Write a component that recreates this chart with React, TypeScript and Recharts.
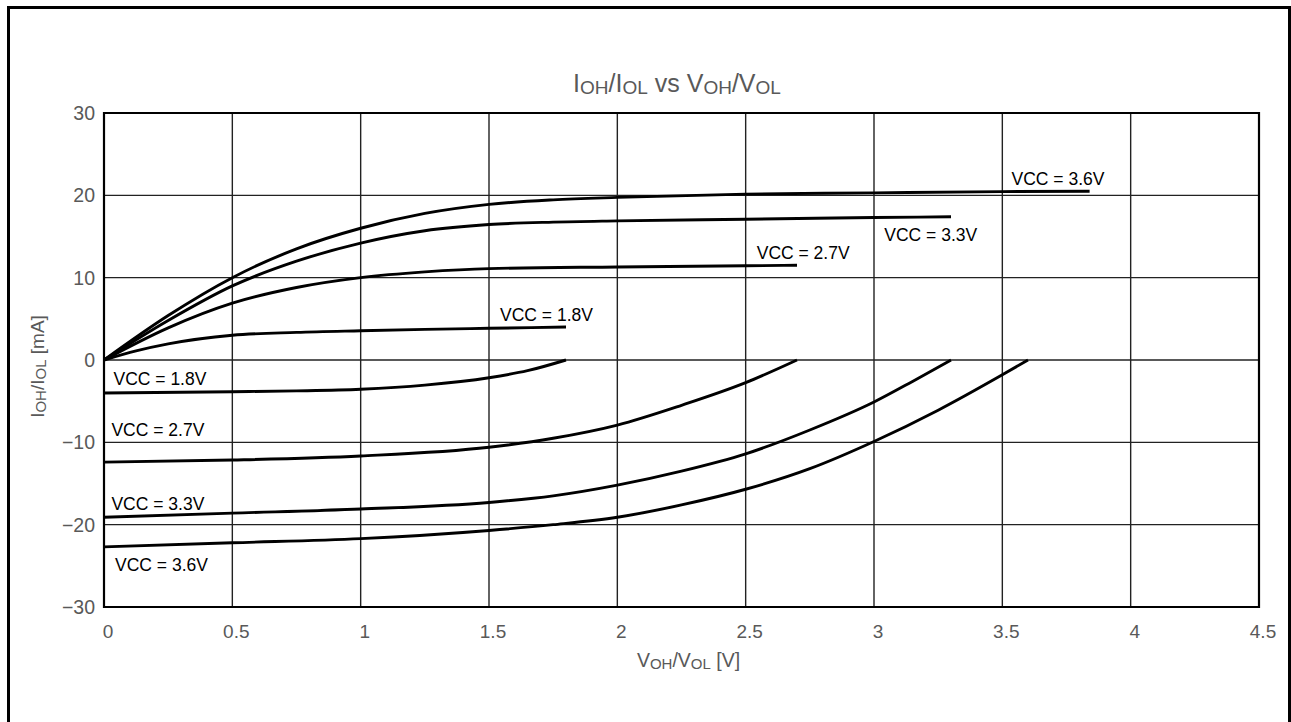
import React from 'react';
import {
  LineChart,
  Line,
  XAxis,
  YAxis,
  CartesianGrid,
  ReferenceArea,
  ReferenceDot,
  Label,
} from 'recharts';

const FONT = '"Liberation Sans", Arial, Helvetica, sans-serif';

const xTicks = [0, 0.5, 1, 1.5, 2, 2.5, 3, 3.5, 4, 4.5];
const yTicks = [-30, -20, -10, 0, 10, 20, 30];

// IOH (upper) curves
const ohX18 = [0, 0.125, 0.25, 0.5, 0.75, 1, 1.25, 1.5, 1.8];
const ohY18 = [0, 1.1, 1.95, 3.0, 3.35, 3.55, 3.72, 3.85, 4.0];
const ohX27 = [0, 0.25, 0.5, 0.75, 1, 1.25, 1.5, 2, 2.5, 2.7];
const ohY27 = [0, 3.9, 6.9, 8.8, 10.0, 10.7, 11.1, 11.3, 11.45, 11.5];
const ohX33 = [0, 0.25, 0.5, 0.75, 1, 1.25, 1.5, 1.75, 2, 2.5, 3, 3.3];
const ohY33 = [0, 4.8, 9.0, 12.0, 14.2, 15.7, 16.45, 16.75, 16.9, 17.1, 17.3, 17.4];
const ohX36 = [0, 0.25, 0.5, 0.75, 1, 1.25, 1.5, 1.75, 2, 2.5, 3, 3.5, 3.84];
const ohY36 = [0, 5.4, 10.0, 13.5, 16.0, 17.8, 18.9, 19.45, 19.75, 20.15, 20.3, 20.45, 20.5];

// IOL (lower) curves
const olX18 = [0, 0.5, 0.75, 1, 1.25, 1.5, 1.65, 1.8];
const olY18 = [-4.0, -3.85, -3.75, -3.55, -3.05, -2.15, -1.3, 0];
const olX27 = [0, 0.5, 1, 1.5, 1.75, 2, 2.25, 2.5, 2.7];
const olY27 = [-12.4, -12.15, -11.66, -10.6, -9.5, -7.9, -5.5, -2.75, 0];
const olX33 = [0, 0.5, 1, 1.5, 1.75, 2, 2.25, 2.5, 2.75, 3, 3.15, 3.3];
const olY33 = [-19.1, -18.6, -18.1, -17.3, -16.5, -15.2, -13.5, -11.4, -8.5, -5.1, -2.6, 0];
const olX36 = [0, 0.5, 1, 1.5, 1.75, 2, 2.25, 2.5, 2.75, 3, 3.25, 3.5, 3.6];
const olY36 = [-22.7, -22.2, -21.7, -20.7, -20.0, -19.1, -17.6, -15.7, -13.2, -9.9, -6.1, -1.8, 0];

// curve labels (text, x, y of text baseline-left)
const labelText = ['VCC = 3.6V', 'VCC = 3.3V', 'VCC = 2.7V', 'VCC = 1.8V', 'VCC = 1.8V', 'VCC = 2.7V', 'VCC = 3.3V', 'VCC = 3.6V'];
const labelX = [3.536, 3.04, 2.543, 1.543, 0.037, 0.029, 0.029, 0.043];
const labelY = [21.3, 14.4, 12.27, 4.78, -3.04, -9.19, -18.2, -25.6];

const zip = (xs: number[], ys: number[]) => xs.map((x, i) => ({ x, y: ys[i] }));

const series = [
  zip(ohX18, ohY18),
  zip(ohX27, ohY27),
  zip(ohX33, ohY33),
  zip(ohX36, ohY36),
  zip(olX18, olY18),
  zip(olX27, olY27),
  zip(olX33, olY33),
  zip(olX36, olY36),
];

const fmt = (v: number) => (v < 0 ? '\u2212' + Math.abs(v) : String(v));

const AXIS_COLOR = '#595959';

const XLabel = (props: any) => {
  const vb = props.viewBox || {};
  const cx = vb.x + vb.width / 2 + 7;
  const y = 667;
  return (
    <text x={cx} y={y} textAnchor="middle" fill={AXIS_COLOR} fontSize={19.5} fontFamily={FONT}>
      <tspan>V</tspan>
      <tspan fontSize={15} dy={2}>OH</tspan>
      <tspan dy={-2}>/V</tspan>
      <tspan fontSize={15} dy={2}>OL</tspan>
      <tspan dy={-2}> [V]</tspan>
    </text>
  );
};

const YLabel = () => {
  const x = 44;
  const y = 366.5;
  return (
    <text x={x} y={y} transform={`rotate(-90, ${x}, ${y})`} textAnchor="middle" fill={AXIS_COLOR} fontSize={19} fontFamily={FONT}>
      <tspan>I</tspan>
      <tspan fontSize={15} dy={2}>OH</tspan>
      <tspan dy={-2}>/I</tspan>
      <tspan fontSize={15} dy={2}>OL</tspan>
      <tspan dy={-2}> [mA]</tspan>
    </text>
  );
};

export default function App() {
  return (
    <div style={{ position: 'fixed', left: 0, top: 0, width: 1291, height: 722, overflow: 'hidden', background: '#fff' }}>
      <div style={{ position: 'absolute', left: 0, top: 0 }}>
        <LineChart width={1291} height={722} margin={{ top: 113, right: 32, bottom: 85, left: 44 }}>
          <CartesianGrid stroke="#222" strokeWidth={1.4} />
          <XAxis
            dataKey="x"
            type="number"
            domain={[0, 4.5]}
            ticks={xTicks}
            allowDataOverflow
            axisLine={false}
            tickLine={false}
            tickSize={0}
            tickMargin={18}
            height={30}
            tick={{ fill: AXIS_COLOR, fontSize: 19, fontFamily: FONT, dx: 4 }}
          >
            <Label content={XLabel} />
          </XAxis>
          <YAxis
            type="number"
            domain={[-30, 30]}
            ticks={yTicks}
            allowDataOverflow
            tickFormatter={fmt}
            axisLine={false}
            tickLine={false}
            tickSize={0}
            tickMargin={9}
            width={60}
            tick={{ fill: AXIS_COLOR, fontSize: 19.5, fontFamily: FONT }}
          >
            <Label content={YLabel} />
          </YAxis>
          {series.map((d, i) => (
            <Line
              key={i}
              data={d}
              dataKey="y"
              type="monotone"
              stroke="#000"
              strokeWidth={2.9}
              dot={false}
              activeDot={false}
              isAnimationActive={false}
            />
          ))}
          <ReferenceArea x1={0} x2={4.5} y1={-30} y2={30} fill="none" fillOpacity={0} stroke="#000" strokeWidth={2.2} />
          {labelText.map((t, i) => (
            <ReferenceDot
              key={'l' + i}
              x={labelX[i]}
              y={labelY[i]}
              r={0}
              ifOverflow="visible"
              shape={(p: any) => (
                <text x={p.cx} y={p.cy} textAnchor="start" fill="#000" fontSize={17.5} fontFamily={FONT}>
                  {t}
                </text>
              )}
            />
          ))}
        </LineChart>
      </div>
      <svg width={1291} height={722} style={{ position: 'absolute', left: 0, top: 0, pointerEvents: 'none' }}>
        <rect x={8.5} y={7.5} width={1281} height={760} fill="none" stroke="#000" strokeWidth={3} />
        <text x={677} y={91.5} textAnchor="middle" fill={AXIS_COLOR} fontSize={25} fontFamily={FONT}>
          <tspan>I</tspan>
          <tspan fontSize={19} dy={2}>OH</tspan>
          <tspan dy={-2}>/I</tspan>
          <tspan fontSize={19} dy={2}>OL</tspan>
          <tspan dy={-2}> vs V</tspan>
          <tspan fontSize={19} dy={2}>OH</tspan>
          <tspan dy={-2}>/V</tspan>
          <tspan fontSize={19} dy={2}>OL</tspan>
        </text>
      </svg>
    </div>
  );
}
